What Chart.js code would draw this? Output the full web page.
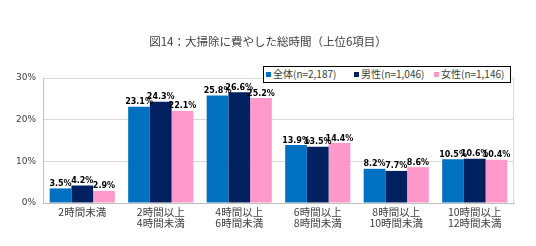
<!DOCTYPE html>
<html>
<head>
<meta charset="utf-8">
<script src="https://cdn.jsdelivr.net/npm/chart.js@4/dist/chart.umd.min.js"></script>
<style>
  html, body { margin: 0; padding: 0; background: #fff; }
  #wrap { position: relative; width: 536px; height: 246px; }
  #title { position: absolute; left: 0; width: 536px; top: 33px; text-align: center;
    font: 11.5px "Noto Sans CJK JP", sans-serif; color: #404040; }
  #legend { position: absolute; left: 263px; top: 66px; width: 248px; height: 17px;
    border: 1.5px solid #000; background: #fff; font: 10px "Noto Sans CJK JP", sans-serif;
    color: #404040; box-sizing: border-box; }
  #legend span { position: absolute; top: 0; line-height: 14px; white-space: nowrap; }
  #legend span i { display: inline-block; width: 5px; height: 5px; margin-right: 2px; vertical-align: 1px; }
</style>
</head>
<body>
<div id="wrap">
  <canvas id="chart" width="536" height="246"></canvas>
  <div id="title">図14：大掃除に費やした総時間（上位6項目）</div>
  <div id="legend"></div>
</div>
<script>
const categories = [
  ["2時間未満"],
  ["2時間以上", "4時間未満"],
  ["4時間以上", "6時間未満"],
  ["6時間以上", "8時間未満"],
  ["8時間以上", "10時間未満"],
  ["10時間以上", "12時間未満"]
];
const seriesNames = ["全体(n=2,187)", "男性(n=1,046)", "女性(n=1,146)"];
const allValues = [3.5, 23.1, 25.8, 13.9, 8.2, 10.5];
const maleValues = [4.2, 24.3, 26.6, 13.5, 7.7, 10.6];
const femaleValues = [2.9, 22.1, 25.2, 14.4, 8.6, 10.4];
const yTicks = [0, 10, 20, 30];
const colors = ["#0070C0", "#002060", "#FF99CC"];

// legend entries, left offsets inside the box
const legendLeft = [2, 90, 170];
const legend = document.getElementById("legend");
seriesNames.forEach((n, i) => {
  const s = document.createElement("span");
  s.style.left = legendLeft[i] + "px";
  s.innerHTML = '<i style="background:' + colors[i] + '"></i>' + n;
  legend.appendChild(s);
});

const labelPlugin = {
  id: "barLabels",
  afterDatasetsDraw(chart) {
    const ctx = chart.ctx;
    ctx.save();
    ctx.font = "bold 8px 'DejaVu Sans', sans-serif";
    ctx.fillStyle = "#000";
    ctx.textAlign = "center";
    ctx.textBaseline = "alphabetic";
    chart.data.datasets.forEach((ds, i) => {
      chart.getDatasetMeta(i).data.forEach((bar, j) => {
        ctx.fillText(ds.data[j].toFixed(1) + "%", bar.x, bar.y - 2.5);
      });
    });
    ctx.restore();
  }
};

new Chart(document.getElementById("chart"), {
  type: "bar",
  data: {
    labels: categories,
    datasets: [
      { label: seriesNames[0], data: allValues, backgroundColor: colors[0] },
      { label: seriesNames[1], data: maleValues, backgroundColor: colors[1] },
      { label: seriesNames[2], data: femaleValues, backgroundColor: colors[2] }
    ]
  },
  options: {
    responsive: false,
    animation: false,
    layout: { padding: { left: 0, right: 22, top: 78, bottom: 0 } },
    datasets: { bar: { categoryPercentage: 0.83, barPercentage: 1 } },
    plugins: { legend: { display: false }, tooltip: { enabled: false } },
    scales: {
      x: {
        grid: { display: false, drawTicks: false },
        border: { color: "#BFBFBF" },
        ticks: { color: "#404040", font: { family: "Noto Sans CJK JP", size: 10.5, lineHeight: 1.0 }, padding: 4, maxRotation: 0 },
        afterFit(s) { s.height = 43; }
      },
      y: {
        min: 0, max: 30,
        afterBuildTicks(s) { s.ticks = yTicks.map(v => ({ value: v })); },
        grid: { color: "#D9D9D9", drawTicks: false },
        border: { color: "#BFBFBF" },
        ticks: { color: "#404040", font: { family: "Verdana, DejaVu Sans", size: 9 }, padding: 7,
          callback: v => v + "%" },
        afterFit(s) { s.width = 43; }
      }
    }
  },
  plugins: [labelPlugin, {
    id: "rightBorder",
    afterDraw(chart) {
      const a = chart.chartArea, ctx = chart.ctx;
      ctx.save();
      ctx.strokeStyle = "#D9D9D9";
      ctx.beginPath();
      ctx.moveTo(a.right - 0.5, a.top);
      ctx.lineTo(a.right - 0.5, a.bottom);
      ctx.stroke();
      ctx.restore();
    }
  }]
});
</script>
</body>
</html>
